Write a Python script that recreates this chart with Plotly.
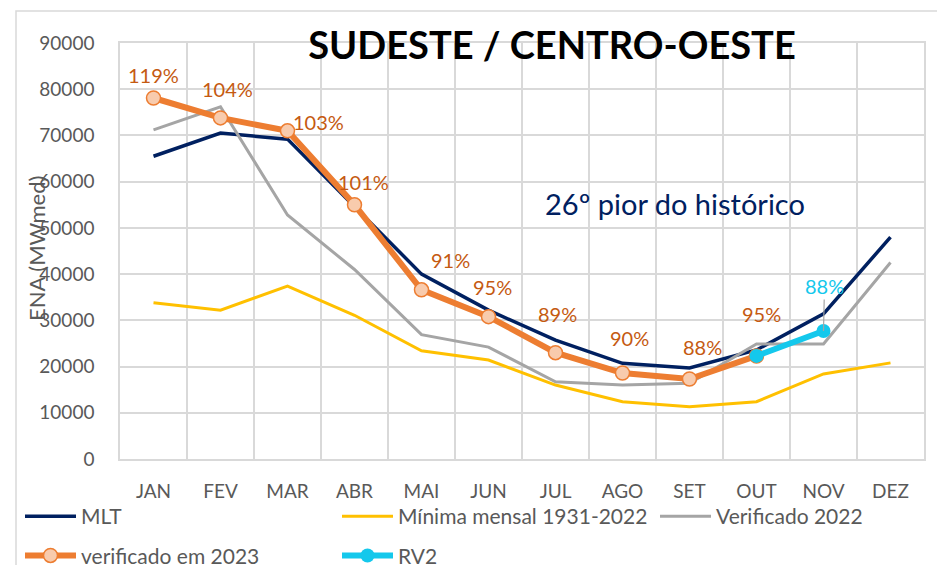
import plotly.graph_objects as go

months = ["JAN", "FEV", "MAR", "ABR", "MAI", "JUN", "JUL", "AGO", "SET", "OUT", "NOV", "DEZ"]
mlt = [65500, 70500, 69200, 54500, 40000, 32200, 25700, 20700, 19700, 23600, 31400, 48000]
minima = [33800, 32200, 37400, 31100, 23400, 21400, 16000, 12400, 11300, 12400, 18400, 20800]
verif_2022 = [71200, 76200, 52800, 41000, 26900, 24200, 16700, 16000, 16400, 24900, 24900, 42500]
verif_2023 = [78100, 73800, 71000, 55000, 36600, 30800, 23000, 18600, 17300, 22300, None, None]
rv2 = [None, None, None, None, None, None, None, None, None, 22300, 27700, None]
pct_2023 = ["119%", "104%", "103%", "101%", "91%", "95%", "89%", "90%", "88%", "95%"]
pct_rv2 = "88%"

FONT = "Lato"
GRAY_TXT = "#595959"
GRID = "#D9D9D9"
ORANGE_TXT = "#C55A11"
CYAN = "#14C8EC"
W, H = 945, 565
OFF = 8  # page body margin offset
# plot area in page pixels: x 120..924, y 43..459
L, T = 120 - OFF, 43 - OFF
R, B = W - (924 - OFF), H - (459 - OFF)
PW, PH = W - L - R, H - T - B


def px(x):
    return (x - OFF - L) / PW


def py(y):
    return (H - B - (y - OFF)) / PH


fig = go.Figure()
fig.add_trace(go.Scatter(x=months, y=mlt, name="MLT", mode="lines",
                         line=dict(color="#002060", width=3.5),
                         legend="legend", legendgroup="a"))
fig.add_trace(go.Scatter(x=months, y=minima, name="Mínima mensal 1931-2022", mode="lines",
                         line=dict(color="#FFC000", width=3),
                         legend="legend2", legendgroup="b"))
fig.add_trace(go.Scatter(x=months, y=verif_2022, name="Verificado 2022", mode="lines",
                         line=dict(color="#A5A5A5", width=3),
                         legend="legend3", legendgroup="c"))
fig.add_trace(go.Scatter(x=months, y=verif_2023, name="verificado em 2023", mode="lines+markers",
                         line=dict(color="#ED7D31", width=6),
                         marker=dict(size=14, color="#F8CBAD", line=dict(color="#ED7D31", width=1.5)),
                         legend="legend", legendgroup="d"))
fig.add_trace(go.Scatter(x=months, y=rv2, name="RV2", mode="lines+markers",
                         line=dict(color=CYAN, width=6),
                         marker=dict(size=14, color=CYAN),
                         legend="legend2", legendgroup="e"))

# labels for 2023 points
offsets = [(0, 23), (7, 29), (31, 9), (9, 23), (29, 30), (4, 30), (2, 39), (7, 35), (13, 32), (5, 42)]
for m, v, t, (dx, dy) in zip(months, verif_2023, pct_2023, offsets):
    fig.add_annotation(x=m, y=v, text=t, showarrow=False, xshift=dx, yshift=dy,
                       font=dict(family=FONT, size=20, color=ORANGE_TXT))
fig.add_annotation(x=months[10], y=rv2[10], text=pct_rv2, showarrow=True, arrowhead=0,
                   arrowcolor="#A5A5A5", arrowwidth=1.2, ax=1, ay=-45, standoff=0,
                   font=dict(family=FONT, size=20, color=CYAN))

fig.add_annotation(xref="paper", yref="paper", x=px(675), y=py(203),
                   xanchor="center", yanchor="middle",
                   text="26º pior do histórico", showarrow=False,
                   font=dict(family=FONT, size=29, color="#002060"))
fig.add_annotation(xref="paper", yref="paper", x=px(36), y=py(249),
                   xanchor="center", yanchor="middle",
                   text="ENA (MWmed)", textangle=-90, showarrow=False,
                   font=dict(family=FONT, size=22, color=GRAY_TXT))

fig.add_shape(type="rect", xref="paper", yref="paper",
              x0=px(16), x1=1.2, y0=-0.5, y1=py(11),
              line=dict(color=GRID, width=1.5), layer="below")

leg_common = dict(orientation="v", xanchor="left", yanchor="top", y=py(496),
                  font=dict(family=FONT, size=21, color=GRAY_TXT),
                  itemwidth=51, tracegroupgap=9, bgcolor="rgba(0,0,0,0)")

fig.update_layout(
    width=W, height=H,
    margin=dict(l=L, r=R, t=T, b=B, autoexpand=False),
    paper_bgcolor="white", plot_bgcolor="white",
    font=dict(family=FONT, size=19, color=GRAY_TXT),
    title=dict(text="<b>SUDESTE / CENTRO-OESTE</b>", x=(552 - OFF) / W, y=1 - (46 - OFF) / H,
               xanchor="center", yanchor="middle",
               font=dict(family=FONT, size=38, color="black")),
    showlegend=True,
    legend=dict(leg_common, x=px(20)),
    legend2=dict(leg_common, x=px(337)),
    legend3=dict(leg_common, x=px(655)),
    xaxis=dict(type="category", categoryorder="array", categoryarray=months,
               range=[-0.5, 11.5], tickson="boundaries", showgrid=True,
               gridcolor=GRID, gridwidth=1.5, ticks="", ticklabelstandoff=14,
               showline=True, linecolor=GRID, linewidth=1.5, mirror=True,
               tickfont=dict(family=FONT, size=19, color=GRAY_TXT)),
    yaxis=dict(range=[0, 90000], dtick=10000, tickformat="d", showgrid=True,
               gridcolor=GRID, gridwidth=1.5, zeroline=False, ticks="",
               ticklabelstandoff=20,
               showline=True, linecolor=GRID, linewidth=1.5, mirror=True,
               tickfont=dict(family=FONT, size=19, color=GRAY_TXT)),
)

fig.write_html("out.html")
